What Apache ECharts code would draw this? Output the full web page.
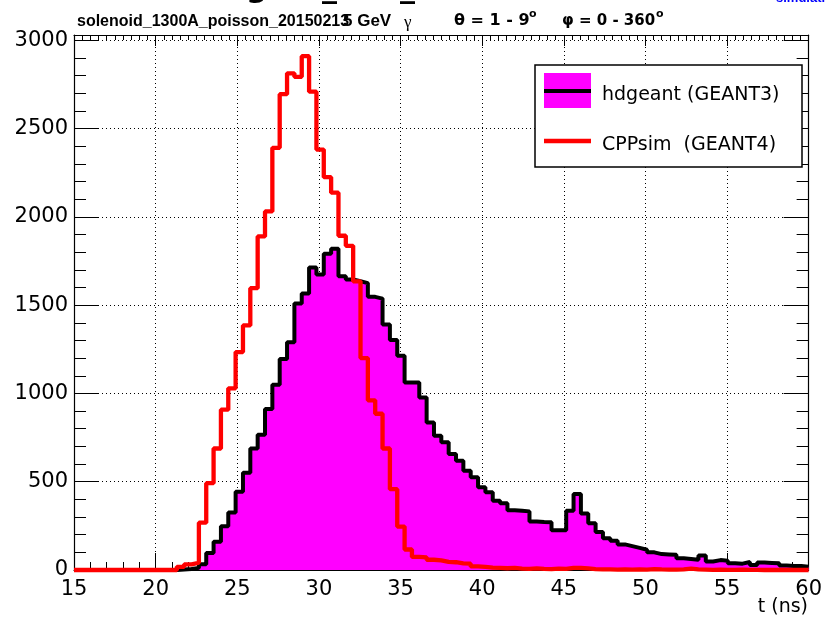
<!DOCTYPE html>
<html><head><meta charset="utf-8">
<script src="https://cdn.jsdelivr.net/npm/echarts@6/dist/echarts.min.js"></script>
<style>html,body{margin:0;padding:0;background:#fff}#c{width:825px;height:620px}</style>
</head><body><div id="c"></div>
<script>
// ---- data ----
const xMin = 15, xMax = 60, binWidth = 0.45;   // 100 bins of 0.45 ns
const xTickStep = 5;
const yTickStep = 500;
const yMax = 3030;
const seriesNames = ['hdgeant (GEANT3)', 'CPPsim  (GEANT4)'];
const hdgeant = [0,0,0,0,0,0,0,0,0,0,0,0,0,0,
  3,6,12,33,96,160,248,326,443,551,688,766,912,1049,1195,1290,1510,1566,1713,1674,
  1791,1820,1664,1645,1635,1625,1547,1537,1391,1303,1213,1062,1062,977,836,760,
  723,657,619,562,525,468,440,392,378,338,335,332,275,272,270,225,225,335,430,320,
  265,215,180,165,145,135,125,115,100,90,88,86,66,62,58,82,48,56,52,38,
  36,45,28,42,40,38,25,22,22,18];
const cppsim = [0,0,0,0,0,0,0,0,0,0,0,0,0,0,
  18,32,41,268,492,688,908,1029,1234,1385,1596,1889,2031,2391,2695,2813,2793,2910,2709,2381,
  2225,2137,1893,1836,1635,1200,961,885,688,458,246,116,74,72,58,55,
  46,44,38,36,20,18,14,12,10,12,8,6,9,6,5,8,6,12,12,9,
  5,3,3,2,4,2,3,2,5,3,2,2,4,8,3,2,1,2,1,1,
  2,1,1,0,1,0,1,0,0,0];

function toSteps(vals){
  const pts = vals.map((v,i)=>[xMin + i*binWidth, v]);
  pts.push([xMax, vals[vals.length-1]]);
  return pts;
}

const chart = echarts.init(document.getElementById('c'), null, {renderer:'canvas'});
const FONT = '"DejaVu Sans", sans-serif';
const HEL = '"Liberation Sans", Arial, sans-serif';
const black = '#000';
const dotted = {show:true, lineStyle:{color:black, type:[1,3], width:1}};

function xAx(pos, showLabel, tickLen, minorSplit, minorLen){
  return {
    type:'value', min:xMin, max:xMax, interval:xTickStep, position:pos,
    axisLine:{show:true, onZero:false, lineStyle:{color:black, width:1.2}},
    axisTick:{show:true, inside:true, length:tickLen, lineStyle:{color:black, width:1}},
    minorTick:{show:true, splitNumber:minorSplit, length:minorLen, lineStyle:{color:black, width:1}},
    axisLabel:{show:showLabel, color:black, fontFamily:FONT, fontSize:21, margin:9},
    splitLine: showLabel ? dotted : {show:false}
  };
}
function yAx(pos, showLabel, step, tickLen, showLine, split){
  return {
    type:'value', min:0, max:yMax, interval:step, position:pos,
    axisLine:{show:showLine, onZero:false, lineStyle:{color:black, width:1.2}},
    axisTick:{show:true, inside:true, length:tickLen, lineStyle:{color:black, width:1}},
    axisLabel:{show:showLabel, color:black, fontFamily:FONT, fontSize:21, margin:6,
      formatter:(v)=> (v % yTickStep === 0 ? String(v) : '')},
    splitLine: split ? dotted : {show:false}
  };
}

const txt = (x, y, text, font, extra, va) => Object.assign({
  type:'text', x:x, y:y, z:100,
  style:{text:text, font:font, fill:(extra && extra.fill) || black, align:'left', verticalAlign:va || 'middle'}
}, extra && extra.z ? {z:extra.z} : {});

chart.setOption({
  animation:false,
  backgroundColor:'#fff',
  grid:{left:74, right:13, top:35, bottom:50, containLabel:false},
  xAxis:[
    xAx('bottom', true, 17, 5, 8),
    xAx('top', false, 11, 10, 5)
  ],
  yAxis:[
    yAx('left', true, yTickStep, 25, true, true),
    yAx('right', false, yTickStep, 25, true, false),
    yAx('left', false, 100, 12, false, false),
    yAx('right', false, 100, 12, false, false)
  ],
  series:[
    {name:seriesNames[0], type:'line', step:'end', data:toSteps(hdgeant),
     xAxisIndex:0, yAxisIndex:0, showSymbol:false, clip:false, z:2,
     lineStyle:{color:black, width:4}, itemStyle:{color:'#ff00ff'},
     areaStyle:{color:'#ff00ff', opacity:1}},
    {name:seriesNames[1], type:'line', step:'end', data:toSteps(cppsim),
     xAxisIndex:0, yAxisIndex:0, showSymbol:false, clip:false, z:3,
     lineStyle:{color:'#ff0000', width:4.3}, itemStyle:{color:'#ff0000'}}
  ],
  graphic:[
    // cut-off texts at the very top of the canvas
    txt(246, 4, 'g', 'bold 30px ' + FONT, null, 'bottom'),
    txt(322, 4, '_', 'bold 30px ' + FONT, null, 'bottom'),
    txt(400, 4, '_', 'bold 30px ' + FONT, null, 'bottom'),
    txt(776, 5, 'simulation', 'bold 13px ' + HEL, {fill:'#0000ff'}, 'bottom'),
    // titles
    txt(77, 22, 'solenoid_1300A_poisson_20150213', 'bold 16px ' + HEL),
    txt(343, 21, '5 GeV', 'bold 17px ' + HEL),
    txt(404, 23, 'γ', '17px "Liberation Serif", serif'),
    txt(454, 21, 'θ = 1 - 9', 'bold 16px ' + FONT),
    txt(529, 14, 'o', 'bold 11px ' + FONT),
    txt(562, 21, 'φ = 0 - 360', 'bold 15px ' + FONT),
    txt(656, 14, 'o', 'bold 11px ' + FONT),
    // axis title
    {type:'text', x:808, y:607, z:100, style:{text:'t (ns)', font:'19px ' + FONT, fill:black, align:'right', verticalAlign:'middle'}},
    // legend
    {type:'rect', z:100, shape:{x:535, y:65, width:267, height:102}, style:{fill:'#fff', stroke:black, lineWidth:1.5}},
    {type:'rect', z:101, shape:{x:544, y:73, width:47, height:35}, style:{fill:'#ff00ff'}},
    {type:'line', z:102, shape:{x1:544, y1:91, x2:591, y2:91}, style:{stroke:black, lineWidth:4}},
    txt(602, 95, seriesNames[0], '19px ' + FONT, {z:102}),
    {type:'line', z:102, shape:{x1:544, y1:141, x2:591, y2:141}, style:{stroke:'#ff0000', lineWidth:4.5}},
    txt(602, 145, seriesNames[1], '19px ' + FONT, {z:102})
  ]
});
</script>
</body></html>
